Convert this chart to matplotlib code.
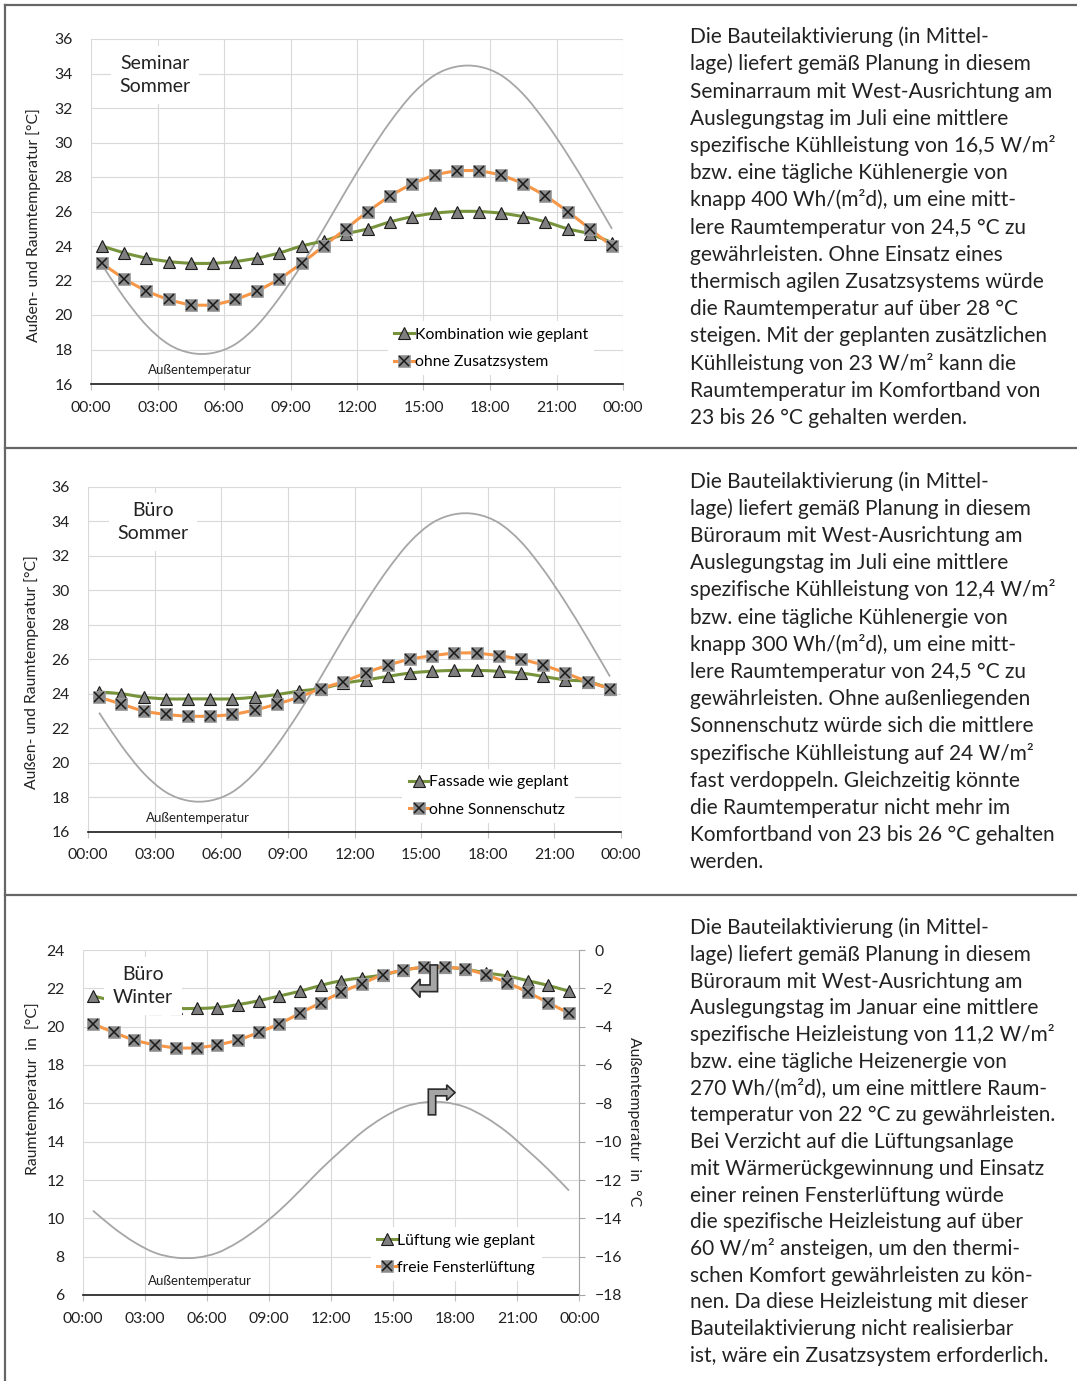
import matplotlib
matplotlib.use('Agg')
import matplotlib.pyplot as plt
import matplotlib.transforms as mtransforms
from matplotlib.lines import Line2D
from matplotlib.patches import Polygon, PathPatch
from matplotlib.path import Path
from matplotlib.legend_handler import HandlerTuple

plt.rcParams['font.family'] = ['Lato', 'DejaVu Sans']

W, H = 1077, 1381
TXT = '#222222'
GRUEN = '#77933C'
ORANGE = '#F79646'
GRAU = '#A6A6A6'

stunden = [0.5, 1.5, 2.5, 3.5, 4.5, 5.5, 6.5, 7.5, 8.5, 9.5, 10.5, 11.5,
           12.5, 13.5, 14.5, 15.5, 16.5, 17.5, 18.5, 19.5, 20.5, 21.5, 22.5, 23.5]
zeit_ticks = [0, 3, 6, 9, 12, 15, 18, 21, 24]
zeit_labels = ['00:00', '03:00', '06:00', '09:00', '12:00', '15:00', '18:00', '21:00', '00:00']

# Sommer, Außentemperatur (beide Sommerfälle)
aussen_sommer = [22.9, 21.0, 19.4, 18.3, 17.8, 17.8, 18.3, 19.4, 21.0, 22.9, 25.0, 27.2,
                 29.3, 31.2, 32.8, 33.9, 34.4, 34.4, 33.9, 32.8, 31.2, 29.3, 27.2, 25.0]

# Seminarraum Sommer
seminar_geplant = [24.0, 23.6, 23.3, 23.1, 23.0, 23.0, 23.1, 23.3, 23.6, 24.0, 24.3, 24.7,
                   25.0, 25.4, 25.7, 25.9, 26.0, 26.0, 25.9, 25.7, 25.4, 25.0, 24.7, 24.2]
seminar_ohne = [23.0, 22.1, 21.4, 20.9, 20.6, 20.6, 20.9, 21.4, 22.1, 23.0, 24.0, 25.0,
                26.0, 26.9, 27.6, 28.1, 28.35, 28.35, 28.1, 27.6, 26.9, 26.0, 25.0, 24.0]

# Büro Sommer
buero_geplant = [24.1, 24.0, 23.8, 23.7, 23.7, 23.7, 23.7, 23.8, 23.95, 24.15, 24.3, 24.6,
                 24.8, 25.0, 25.2, 25.3, 25.35, 25.35, 25.3, 25.2, 25.0, 24.8, 24.7, 24.3]
buero_ohne = [23.8, 23.4, 23.0, 22.8, 22.7, 22.7, 22.8, 23.05, 23.4, 23.8, 24.3, 24.7,
              25.2, 25.65, 26.0, 26.2, 26.35, 26.35, 26.2, 26.0, 25.65, 25.2, 24.7, 24.3]

# Büro Winter
winter_geplant = [21.6, 21.35, 21.15, 21.0, 20.95, 20.95, 21.0, 21.15, 21.35, 21.6, 21.85, 22.15,
                  22.4, 22.55, 22.7, 22.95, 23.1, 23.1, 23.0, 22.8, 22.65, 22.4, 22.15, 21.85]
winter_fenster = [20.15, 19.7, 19.3, 19.05, 18.9, 18.9, 19.05, 19.3, 19.7, 20.15, 20.7, 21.25,
                  21.8, 22.25, 22.7, 22.95, 23.1, 23.1, 23.0, 22.7, 22.3, 21.8, 21.25, 20.7]
aussen_winter = [-13.6, -14.5, -15.25, -15.8, -16.05, -16.05, -15.8, -15.25, -14.5, -13.6, -12.55, -11.45,
                 -10.45, -9.5, -8.75, -8.2, -7.95, -7.95, -8.2, -8.75, -9.5, -10.45, -11.45, -12.55]

text_seminar = [
    'Die Bauteilaktivierung (in Mittel-',
    'lage) liefert gemäß Planung in diesem',
    'Seminarraum mit West-Ausrichtung am',
    'Auslegungstag im Juli eine mittlere',
    'spezifische Kühlleistung von 16,5 W/m²',
    'bzw. eine tägliche Kühlenergie von',
    'knapp 400 Wh/(m²d), um eine mitt-',
    'lere Raumtemperatur von 24,5 °C zu',
    'gewährleisten. Ohne Einsatz eines',
    'thermisch agilen Zusatzsystems würde',
    'die Raumtemperatur auf über 28 °C',
    'steigen. Mit der geplanten zusätzlichen',
    'Kühlleistung von 23 W/m² kann die',
    'Raumtemperatur im Komfortband von',
    '23 bis 26 °C gehalten werden.',
]
text_buero = [
    'Die Bauteilaktivierung (in Mittel-',
    'lage) liefert gemäß Planung in diesem',
    'Büroraum mit West-Ausrichtung am',
    'Auslegungstag im Juli eine mittlere',
    'spezifische Kühlleistung von 12,4 W/m²',
    'bzw. eine tägliche Kühlenergie von',
    'knapp 300 Wh/(m²d), um eine mitt-',
    'lere Raumtemperatur von 24,5 °C zu',
    'gewährleisten. Ohne außenliegenden',
    'Sonnenschutz würde sich die mittlere',
    'spezifische Kühlleistung auf 24 W/m²',
    'fast verdoppeln. Gleichzeitig könnte',
    'die Raumtemperatur nicht mehr im',
    'Komfortband von 23 bis 26 °C gehalten',
    'werden.',
]
text_winter = [
    'Die Bauteilaktivierung (in Mittel-',
    'lage) liefert gemäß Planung in diesem',
    'Büroraum mit West-Ausrichtung am',
    'Auslegungstag im Januar eine mittlere',
    'spezifische Heizleistung von 11,2 W/m²',
    'bzw. eine tägliche Heizenergie von',
    '270 Wh/(m²d), um eine mittlere Raum-',
    'temperatur von 22 °C zu gewährleisten.',
    'Bei Verzicht auf die Lüftungsanlage',
    'mit Wärmerückgewinnung und Einsatz',
    'einer reinen Fensterlüftung würde',
    'die spezifische Heizleistung auf über',
    '60 W/m² ansteigen, um den thermi-',
    'schen Komfort gewährleisten zu kön-',
    'nen. Da diese Heizleistung mit dieser',
    'Bauteilaktivierung nicht realisierbar',
    'ist, wäre ein Zusatzsystem erforderlich.',
]

fig = plt.figure(figsize=(W / 100, H / 100), dpi=100)

GEPLANT = dict(marker='^', ms=8, mfc='#7F7F7F', mec='#1a1a1a', mew=0.8)
OHNE = dict(marker='s', ms=8, mfc='#8C8C8C', mec='#A0A0A0', mew=0.6)
KREUZ = dict(marker='x', ms=6.5, mec='#1a1a1a', mew=1.1)


def achse(l, t, r, b, ylim, yticks):
    ax = fig.add_axes([l / W, 1 - b / H, (r - l) / W, (b - t) / H])
    ax.set_xlim(0, 24)
    ax.set_ylim(*ylim)
    ax.set_xticks(zeit_ticks)
    ax.set_xticklabels(zeit_labels)
    ax.set_yticks(yticks)
    ax.grid(True, color='#D9D9D9', lw=0.8)
    ax.set_axisbelow(True)
    for s in ['left', 'right', 'top']:
        ax.spines[s].set_visible(False)
    ax.spines['bottom'].set_color('#1a1a1a')
    ax.spines['bottom'].set_linewidth(1.2)
    ax.tick_params(axis='x', length=4, color='#BFBFBF', pad=8, labelsize=11.3, labelcolor=TXT)
    ax.tick_params(axis='y', length=0, pad=13, labelsize=11.3, labelcolor=TXT)
    return ax


def glatt(ax, x, y, color, lw, z):
    # geglättete Linie wie in Excel: kubische Bezier-Segmente durch die Messpunkte
    n = len(x)
    verts = [(x[0], y[0])]
    codes = [Path.MOVETO]
    for i in range(n - 1):
        a, b = max(i - 1, 0), min(i + 2, n - 1)
        verts.append((x[i] + (x[i + 1] - x[a]) / 6, y[i] + (y[i + 1] - y[a]) / 6))
        verts.append((x[i + 1] - (x[b] - x[i]) / 6, y[i + 1] - (y[b] - y[i]) / 6))
        verts.append((x[i + 1], y[i + 1]))
        codes += [Path.CURVE4] * 3
    ax.add_patch(PathPatch(Path(verts, codes), fc='none', ec=color, lw=lw,
                           capstyle='butt', joinstyle='round', zorder=z))


def kurven(ax, geplant, ohne):
    glatt(ax, stunden, geplant, GRUEN, 2.2, 3)
    ax.plot(stunden, geplant, ls='none', zorder=3.1, **GEPLANT)
    glatt(ax, stunden, ohne, ORANGE, 2.2, 3.2)
    ax.plot(stunden, ohne, ls='none', zorder=3.3, **OHNE)
    ax.plot(stunden, ohne, ls='none', zorder=3.4, **KREUZ)
    h1 = Line2D([], [], color=GRUEN, lw=2.2, **GEPLANT)
    h2 = Line2D([], [], color=ORANGE, lw=2.2, **OHNE)
    h3 = Line2D([], [], ls='none', **KREUZ)
    return h1, (h2, h3)


def legende(ax, handles, labels, x, y):
    ax.legend(handles, labels, handler_map={tuple: HandlerTuple(ndivide=1)},
              loc='lower left', bbox_to_anchor=(x, y), frameon=True, facecolor='white',
              edgecolor='none', framealpha=1, fancybox=False, fontsize=11.3,
              handlelength=1.25, handletextpad=0.05, labelspacing=0.85, borderpad=0.4,
              borderaxespad=0)


def titel(ax, s, x, y):
    ax.text(x, y, s, transform=ax.transAxes, ha='center', va='center', fontsize=14,
            linespacing=1.45, color=TXT, zorder=4,
            bbox=dict(boxstyle='square,pad=0.45', fc='white', ec='none'))


def pfeil(ax, x, y, pts):
    tr = mtransforms.Affine2D().scale(1, -1) + mtransforms.ScaledTranslation(x, y, ax.transData)
    ax.add_patch(Polygon(pts, closed=True, transform=tr, fc='#A5A5A5', ec='#2a2a2a',
                         lw=1.2, clip_on=False, zorder=6))


# Seminar Sommer
ax1 = achse(91, 39, 623, 384, (16, 36), range(16, 37, 2))
glatt(ax1, stunden, aussen_sommer, GRAU, 1.3, 2)
h = kurven(ax1, seminar_geplant, seminar_ohne)
legende(ax1, h, ['Kombination wie geplant', 'ohne Zusatzsystem'], 0.558, 0.025)
titel(ax1, 'Seminar\nSommer', 0.12, 0.896)
ax1.text(0.205, 0.041, 'Außentemperatur', transform=ax1.transAxes, ha='center', va='center',
         fontsize=9.5, color=TXT)

# Büro Sommer
ax2 = achse(88, 486.7, 621, 831.7, (16, 36), range(16, 37, 2))
glatt(ax2, stunden, aussen_sommer, GRAU, 1.3, 2)
h = kurven(ax2, buero_geplant, buero_ohne)
legende(ax2, h, ['Fassade wie geplant', 'ohne Sonnenschutz'], 0.59, 0.025)
titel(ax2, 'Büro\nSommer', 0.122, 0.898)
ax2.text(0.206, 0.040, 'Außentemperatur', transform=ax2.transAxes, ha='center', va='center',
         fontsize=9.5, color=TXT)

# Büro Winter
ax3 = achse(82.7, 950, 579.3, 1295, (6, 24), range(6, 25, 2))
h = kurven(ax3, winter_geplant, winter_fenster)
legende(ax3, h, ['Lüftung wie geplant', 'freie Fensterlüftung'], 0.58, 0.04)
titel(ax3, 'Büro\nWinter', 0.121, 0.896)
ax3.text(0.236, 0.041, 'Außentemperatur', transform=ax3.transAxes, ha='center', va='center',
         fontsize=9.5, color=TXT)

ax3r = ax3.twinx()
glatt(ax3r, stunden, aussen_winter, GRAU, 1.3, 2)
ax3r.set_ylim(-18, 0)
ax3r.set_yticks(range(-18, 1, 2))
for s in ['left', 'top', 'bottom']:
    ax3r.spines[s].set_visible(False)
ax3r.spines['right'].set_color('#A6A6A6')
ax3r.spines['right'].set_linewidth(0.8)
ax3r.tick_params(axis='y', length=4, color='#A6A6A6', pad=7, labelsize=11.3, labelcolor=TXT)

# Pfeile: Raumtemperatur -> linke Achse, Außentemperatur -> rechte Achse
pfeil(ax3, 17.15, 23.22, [(-7.5, 0), (0, 0), (0, 26.7), (-17.5, 26.7), (-17.5, 32.5),
                          (-26, 23.3), (-17.5, 14), (-17.5, 20), (-7.5, 20)])
pfeil(ax3r, 17.06, -8.6, [(-7.4, 0), (0, 0), (0, -19), (11, -19), (11, -14.5),
                          (19.3, -22.3), (11, -30), (11, -25.7), (-7.4, -25.7)])

# Achsentitel
fig.text(34 / W, 1 - 225 / H, 'Außen- und Raumtemperatur [°C]', rotation=90,
         ha='center', va='center', fontsize=11.3, color=TXT)
fig.text(32 / W, 1 - 672 / H, 'Außen- und Raumtemperatur [°C]', rotation=90,
         ha='center', va='center', fontsize=11.3, color=TXT)
fig.text(33 / W, 1 - 1089 / H, 'Raumtemperatur  in  [°C]', rotation=90,
         ha='center', va='center', fontsize=11.3, color=TXT)
fig.text(634 / W, 1 - 1122 / H, 'Außentemperatur  in  °C', rotation=270,
         ha='center', va='center', fontsize=11.3, color=TXT)

# Rahmenlinien
rahmen = dict(transform=fig.transFigure, color='#666666', lw=1.6)
fig.add_artist(Line2D([5 / W, 5 / W], [1 - 5 / H, 0], **rahmen))
for y in [5, 448.3, 895]:
    fig.add_artist(Line2D([5 / W, 1], [1 - y / H, 1 - y / H], **rahmen))

# Erläuterungstexte
for y0, dy, zeilen in [(43.3, 27.2, text_seminar), (487.5, 27.2, text_buero),
                       (934, 26.75, text_winter)]:
    for i, zeile in enumerate(zeilen):
        fig.text(690 / W, 1 - (y0 + i * dy) / H, zeile, fontsize=15, va='baseline', color=TXT)

fig.savefig('out.png', dpi=100)
